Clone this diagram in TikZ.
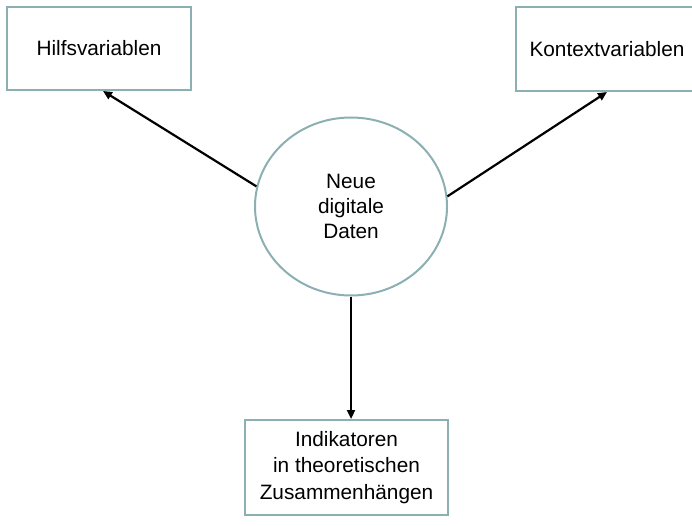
\documentclass[tikz,border=0pt]{standalone}
\usepackage{fontspec}
\setmainfont{Liberation Sans}
\usetikzlibrary{shapes.geometric,arrows.meta}
\definecolor{rahmen}{RGB}{140,176,178}
\tikzset{
  kasten/.style={draw=rahmen, line width=2pt, rectangle, inner sep=0pt, align=center,
    font=\fontsize{20.8}{26.5}\selectfont},
  kreis/.style={draw=rahmen, line width=2pt, ellipse, inner sep=0pt,
    minimum width=192pt, minimum height=178pt, align=center,
    font=\fontsize{20.8}{25}\selectfont},
  pfeil/.style={line width=2.2pt, -{Triangle[length=9pt,width=8pt]}}
}
\begin{document}
\begin{tikzpicture}[x=1pt,y=1pt]
    \useasboundingbox (0,0) rectangle (692,525);
    \node[kasten, minimum width=184pt, minimum height=83pt] (hilfs) at (99,476.5) {Hilfsvariablen};
    \node[kasten, minimum width=182pt, minimum height=84pt] (kontext) at (607,476) {Kontextvariablen};
    \node[kreis] (daten) at (351,318.5) {Neue\\digitale\\Daten};
    \node[kasten, minimum width=203pt, minimum height=95pt] (indik) at (346.5,57.5) {Indikatoren\\in theoretischen\\Zusammenh\"angen};
    % Pfeile
    \draw[pfeil] (daten.168) -- ([xshift=4pt]hilfs.south);
    \draw[pfeil] (daten.6) -- (kontext.south);
    \draw[pfeil] (daten.south) -- (daten.south |- indik.north);
\end{tikzpicture}
\end{document}
